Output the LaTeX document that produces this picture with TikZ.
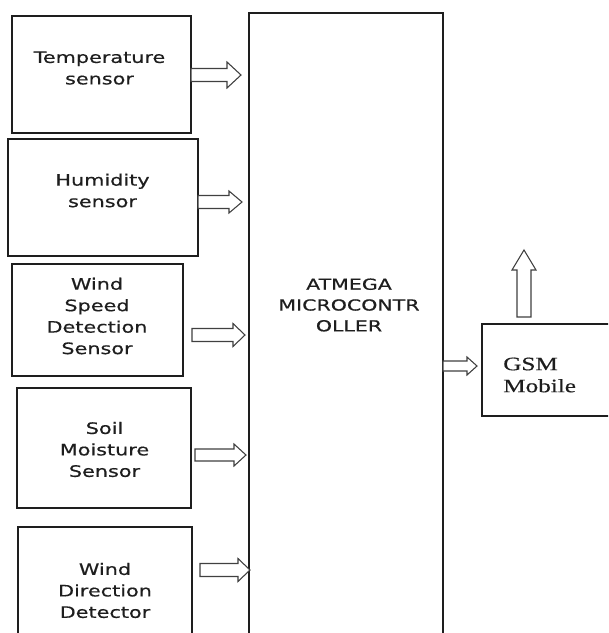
\documentclass[tikz,border=0pt]{standalone}
\usepackage{fontspec}
\usetikzlibrary{calc,fit}
\newfontfamily\sensorfont[FakeStretch=1.32,FakeBold=0.5]{DejaVu Sans}
\newfontfamily\microfont[FakeStretch=1.35,FakeBold=0.5]{DejaVu Sans}
\newfontfamily\gsmfont[FakeStretch=1.33,FakeBold=0.4]{Liberation Serif}
\definecolor{ink}{RGB}{30,30,30}
\newcommand\harrow[5]{\draw[blk] ($(#1)+(0,-#3)$) -- ($(#2)+(-#5,-#3)$) -- ($(#2)+(-#5,-#4)$) -- (#2) -- ($(#2)+(-#5,#4)$) -- ($(#2)+(-#5,#3)$) -- ($(#1)+(0,#3)$) -- cycle;}
\newcommand\varrow[5]{\draw[blk] ($(#1)+(-#3,0)$) -- ($(#2)+(-#3,#5)$) -- ($(#2)+(-#4,#5)$) -- (#2) -- ($(#2)+(#4,#5)$) -- ($(#2)+(#3,#5)$) -- ($(#1)+(#3,0)$) -- cycle;}
\tikzset{
  box/.style={draw=ink, line width=1.2pt, inner sep=0pt},
  blk/.style={draw=ink!85, line width=0.8pt, fill=white, line join=miter},
  stxt/.style={font=\sensorfont\fontsize{11.8pt}{16.1pt}\selectfont, text=ink, align=center, inner sep=0pt},
  mtxt/.style={font=\microfont\fontsize{11.4pt}{15.6pt}\selectfont, text=ink, align=center, inner sep=0pt},
  gtxt/.style={font=\gsmfont\fontsize{14.2pt}{16.5pt}\selectfont, text=ink, align=left, inner sep=0pt},
}
\begin{document}
\begin{tikzpicture}[x=0.75pt,y=-0.75pt]
\useasboundingbox (0,0) rectangle (608,633);
\clip (0,0) rectangle (608,633);
\fill[white] (0,0) rectangle (608,633);
% boxes
\node[box, fit={(12,16) (191,133)}] (temp) {};
\node[box, fit={(8,139) (198,256)}] (hum) {};
\node[box, fit={(12,264) (183,376)}] (wspd) {};
\node[box, fit={(17,388) (191,508)}] (soil) {};
\node[box, fit={(18,527) (192,660)}] (wdir) {};
\node[box, fit={(249,13) (443,660)}] (micro) {};
\node[box, fit={(482,324) (630,416)}] (gsm) {};
% texts
\node[stxt] (tempT) at (99.5,68) {Temperature\\sensor};
\node[stxt] (humT) at (102.5,190.5) {Humidity\\sensor};
\node[stxt] (wspdT) at (97,316) {Wind\\Speed\\Detection\\Sensor};
\node[stxt] (soilT) at (104.5,449.5) {Soil\\Moisture\\Sensor};
\node[stxt] (wdirT) at (105,590.5) {Wind\\Direction\\Detector};
\node[mtxt] (microT) at (349,305) {ATMEGA\\MICROCONTR\\OLLER};
\node[gtxt, anchor=west] (gsmT) at (503,375) {GSM\\Mobile};
% arrow end points
\coordinate (a1s) at (191,75);  \coordinate (a1e) at (241,75);
\coordinate (a2s) at (198,202); \coordinate (a2e) at (242,202);
\coordinate (a3s) at (192,335); \coordinate (a3e) at (245,335);
\coordinate (a4s) at (195,455); \coordinate (a4e) at (246,455);
\coordinate (a5s) at (200,570); \coordinate (a5e) at (250,570);
\coordinate (a6s) at (443,366); \coordinate (a6e) at (477,366);
\coordinate (a7s) at (524,317); \coordinate (a7e) at (524,250);
\harrow{a1s}{a1e}{6.5}{13}{14}
\harrow{a2s}{a2e}{6.5}{11}{13}
\harrow{a3s}{a3e}{6.5}{11.5}{12}
\harrow{a4s}{a4e}{6}{11}{12}
\harrow{a5s}{a5e}{6.5}{11.5}{12}
\harrow{a6s}{a6e}{5}{9}{10}
\varrow{a7s}{a7e}{7}{12}{20}
\end{tikzpicture}
\end{document}
